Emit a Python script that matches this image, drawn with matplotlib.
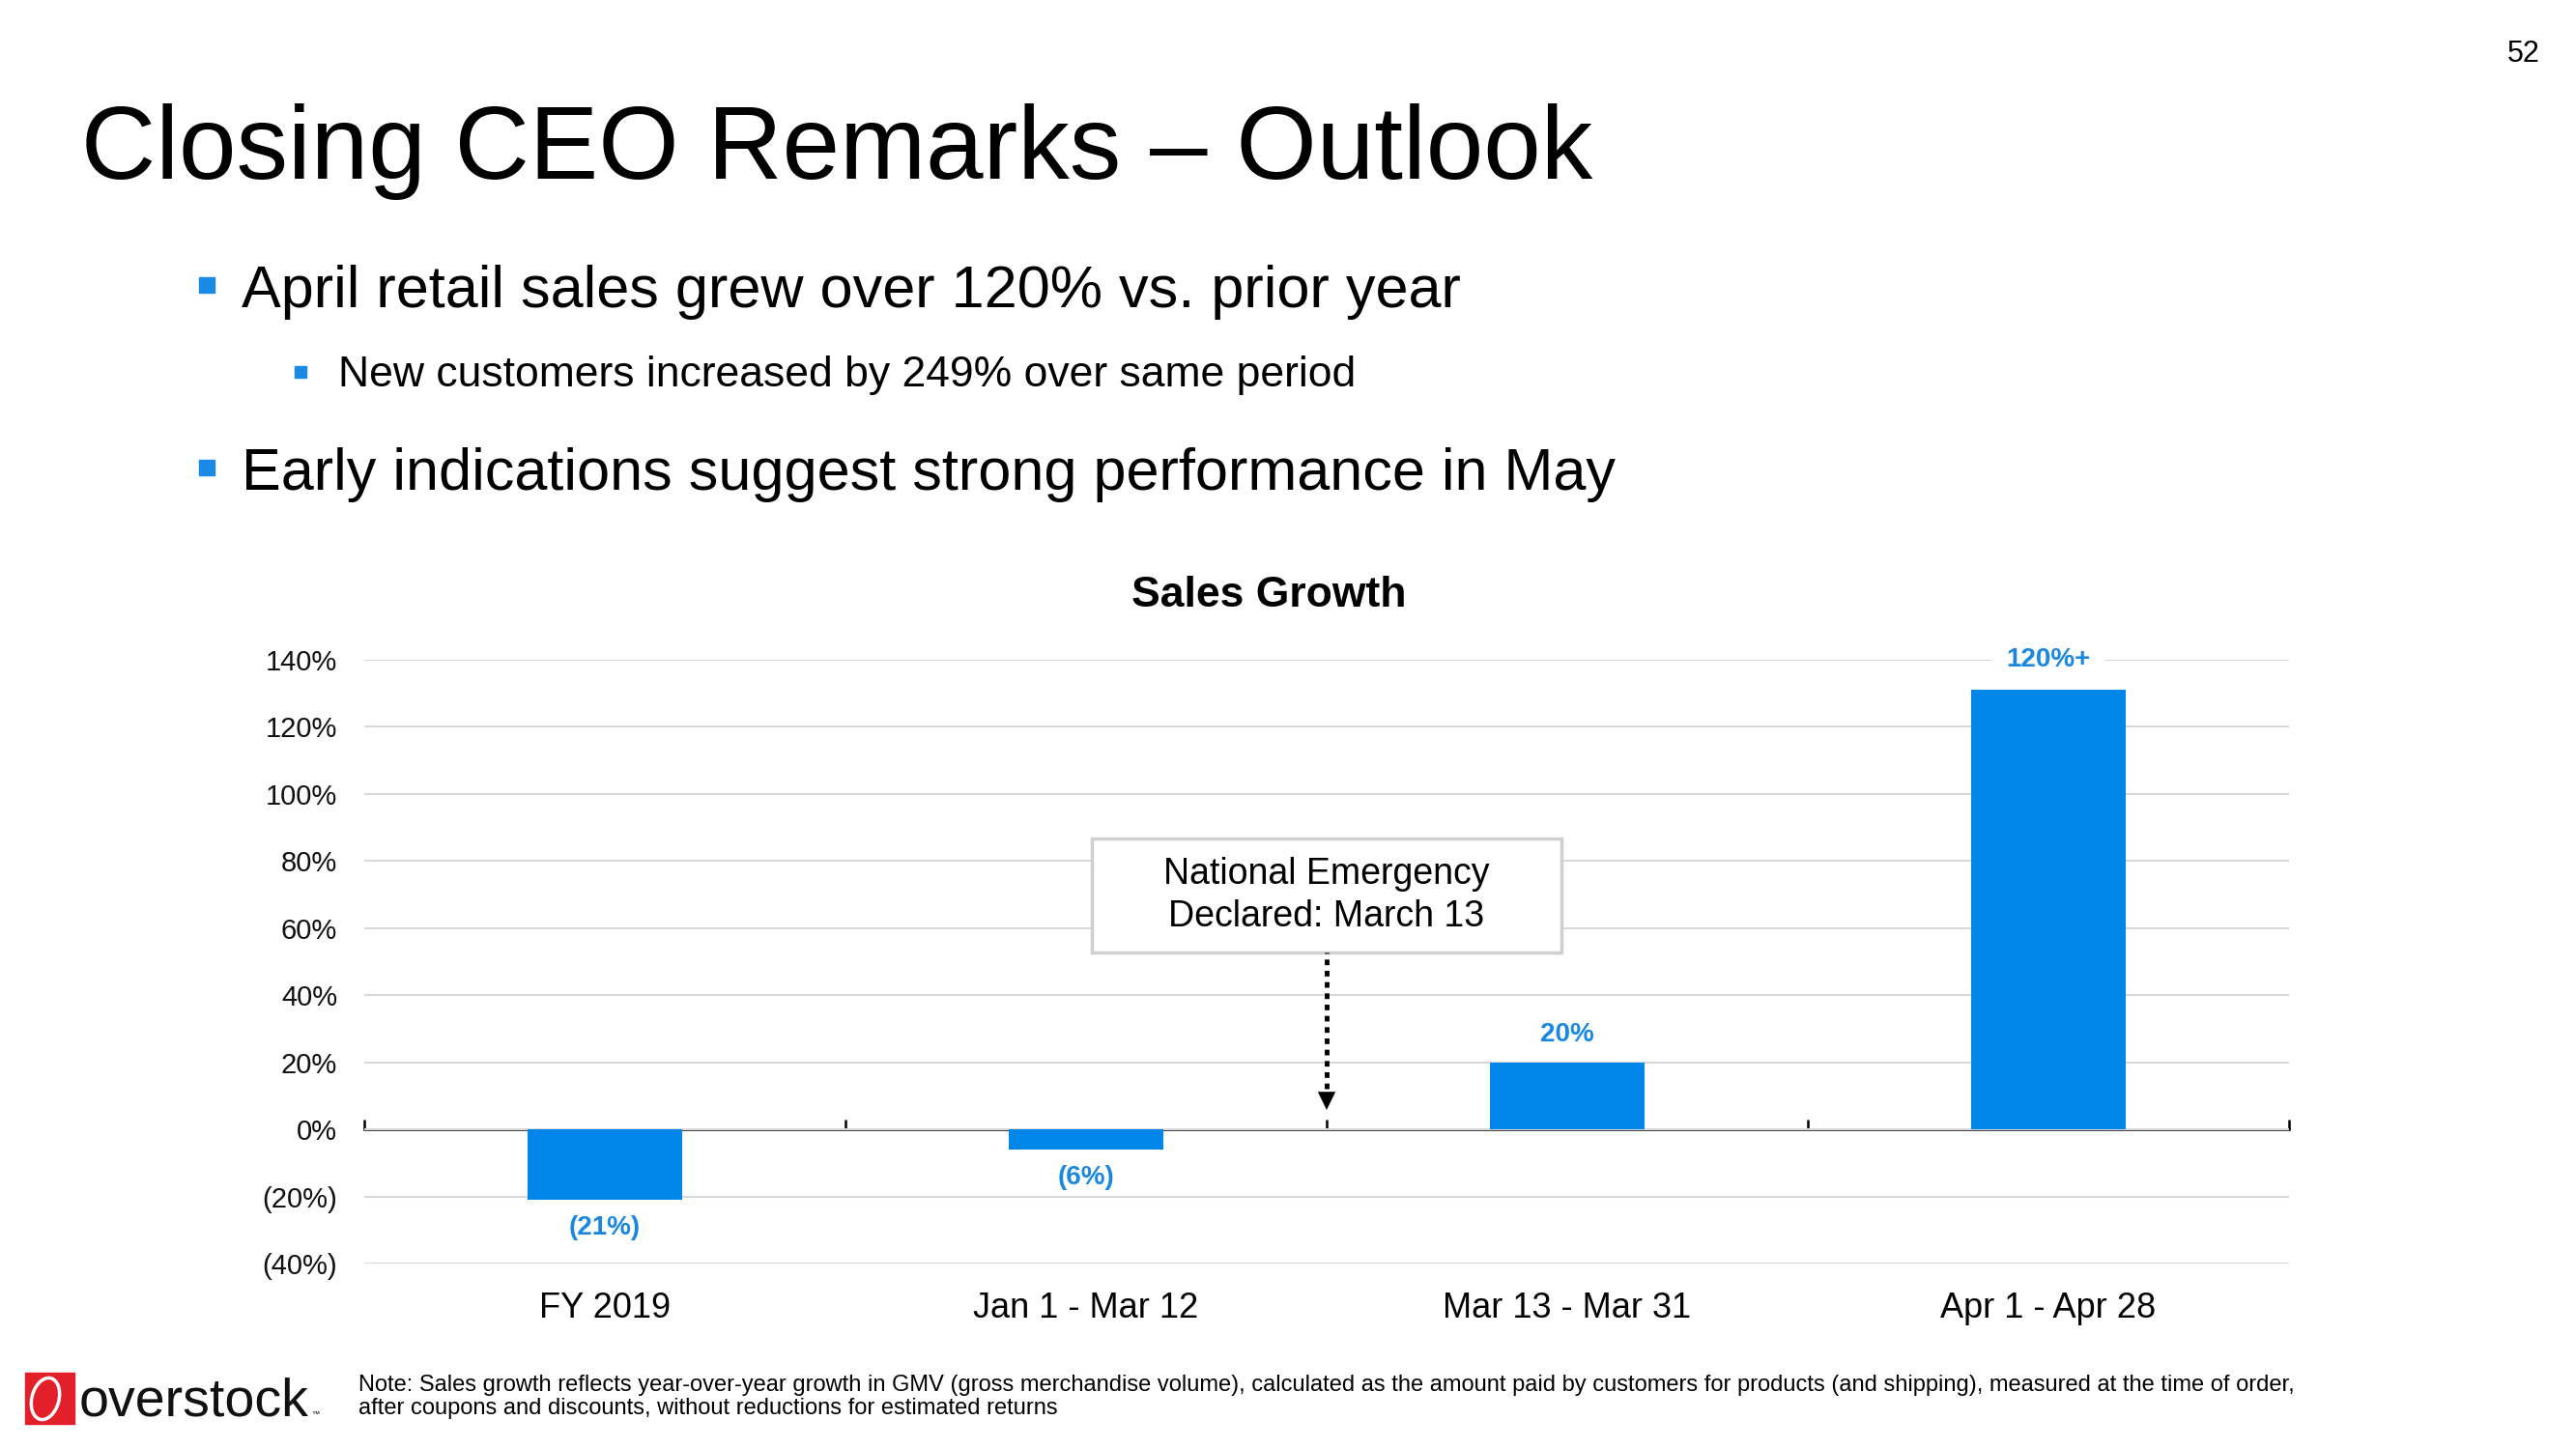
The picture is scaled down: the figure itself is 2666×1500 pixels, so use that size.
import matplotlib

matplotlib.use("Agg")
import matplotlib.pyplot as plt
import numpy as np
from matplotlib.patches import Ellipse, Rectangle

# chart values
categories = ["FY 2019", "Jan 1 - Mar 12", "Mar 13 - Mar 31", "Apr 1 - Apr 28"]
growth = [-21, -6, 20, 131]
value_labels = ["(21%)", "(6%)", "20%", "120%+"]
y_ticks = [-40, -20, 0, 20, 40, 60, 80, 100, 120, 140]
y_tick_labels = ["(40%)", "(20%)", "0%", "20%", "40%", "60%", "80%", "100%", "120%", "140%"]

event_text = "National Emergency\nDeclared: March 13"
event_pos = 1.5  # boundary between Jan 1 - Mar 12 and Mar 13 - Mar 31

title = "Closing CEO Remarks \u2013 Outlook"
bullet_1 = "April retail sales grew over 120% vs. prior year"
sub_bullet = "New customers increased by 249% over same period"
bullet_2 = "Early indications suggest strong performance in May"
chart_title = "Sales Growth"
note_lines = [
    "Note: Sales growth reflects year-over-year growth in GMV (gross merchandise volume), "
    "calculated as the amount paid by customers for products (and shipping), measured at the time of order,",
    "after coupons and discounts, without reductions for estimated returns",
]
page_no = "52"

BAR_BLUE = "#0086E8"
LABEL_BLUE = "#1A88E0"
BULLET_BLUE = "#1A8AE6"
GRID = "#D9D9D9"
W, H = 2666, 1500

plt.rcParams["font.family"] = ["Liberation Sans", "DejaVu Sans"]

fig = plt.figure(figsize=(W / 100, H / 100), dpi=100)


def fx(x):
    return x / W


def fy(y):
    return 1 - y / H


def px_rect(x0, y0, x1, y1, **kw):
    # rectangle given in slide pixels (top-left origin)
    return Rectangle((x0 / 100, (H - y1) / 100), (x1 - x0) / 100, (y1 - y0) / 100,
                     transform=fig.dpi_scale_trans, **kw)


# ---- slide text ----
fig.text(fx(84), fy(185), title, fontsize=77, va="baseline", color="black")
fig.text(fx(250), fy(318), bullet_1, fontsize=44, va="baseline")
fig.text(fx(350), fy(400), sub_bullet, fontsize=32, va="baseline")
fig.text(fx(250), fy(507), bullet_2, fontsize=44, va="baseline")
fig.add_artist(px_rect(206, 287, 222, 303, color=BULLET_BLUE))
fig.add_artist(px_rect(305, 379, 317, 391, color=BULLET_BLUE))
fig.add_artist(px_rect(206, 476, 222, 492, color=BULLET_BLUE))
fig.text(fx(2612), fy(56), page_no, fontsize=22, ha="center", va="center")

fig.text(fx(1313), fy(628), chart_title, fontsize=32, fontweight="bold",
         ha="center", va="baseline")

# ---- chart ----
ax = fig.add_axes([fx(377), fy(1308), fx(2369) - fx(377), (1308 - 683) / H])
x = np.arange(len(categories))
ax.bar(x, growth, width=0.32, color=BAR_BLUE, zorder=3)
ax.set_xlim(-0.5, len(categories) - 0.5)
ax.set_ylim(y_ticks[0], y_ticks[-1])
ax.set_yticks(y_ticks, y_tick_labels)
ax.yaxis.grid(True, color=GRID, lw=1.5)
ax.set_axisbelow(True)
ax.tick_params(axis="y", length=0, pad=20, labelsize=21, labelcolor="#111111")
ax.set_xticks(x, categories)
ax.tick_params(axis="x", length=0, pad=21, labelsize=26)
for s in ax.spines.values():
    s.set_visible(False)

# zero line with upward ticks on category boundaries
zero_frac = (0 - y_ticks[0]) / (y_ticks[-1] - y_ticks[0])
zax = ax.secondary_xaxis(zero_frac)
zax.set_xticks(np.arange(len(categories) + 1) - 0.5)
zax.tick_params(direction="in", length=7, width=1.8, labelbottom=False, color="black")
zax.spines["bottom"].set_linewidth(1.8)
zax.spines["bottom"].set_color("black")

for xi, v, lbl in zip(x, growth, value_labels):
    if lbl.endswith("+"):
        # capped bar: label sits on the top gridline
        ax.annotate(lbl, (xi, y_ticks[-1]), ha="center", va="center", fontsize=20,
                    fontweight="bold", color=LABEL_BLUE, annotation_clip=False,
                    bbox=dict(fc="white", ec="none", pad=10), zorder=2)
    else:
        ax.annotate(lbl, (xi, v), xytext=(0, 21 if v > 0 else -21),
                    textcoords="offset points", ha="center", va="center",
                    fontsize=20, fontweight="bold", color=LABEL_BLUE)

# event call-out: box, dotted shaft, solid head
box_bottom, box_top = 52.7, 86.6
ax.add_patch(Rectangle((event_pos - 0.487, box_bottom), 0.974, box_top - box_bottom,
                       fc="white", ec="#CFCFCF", lw=2.5, zorder=4))
ax.text(event_pos, (box_bottom + box_top) / 2, event_text, ha="center", va="center",
        fontsize=27, linespacing=1.3, zorder=5)
ax.vlines(event_pos, 12, box_bottom, colors="black", lw=3.5,
          linestyles=(0, (1.2, 1.2)), zorder=5)
ax.annotate("", xy=(event_pos, 5.8), xytext=(event_pos, 13),
            arrowprops=dict(arrowstyle="-|>,head_length=0.45,head_width=0.22",
                            lw=0, color="black", mutation_scale=30,
                            shrinkA=0, shrinkB=0),
            zorder=5)

# ---- footer ----
fig.add_artist(px_rect(26, 1421, 77, 1474, color="#E3202A"))
fig.add_artist(Ellipse((47 / 100, (H - 1448) / 100), 0.28, 0.44, angle=-15,
                       transform=fig.dpi_scale_trans, fill=False, ec="white", lw=2.5))
fig.text(fx(82), fy(1466), "overstock", fontsize=40, va="baseline", color="#111111")
fig.text(fx(322), fy(1466), "\u2122", fontsize=6, va="baseline")
fig.text(fx(371), fy(1440), note_lines[0], fontsize=17, va="baseline")
fig.text(fx(371), fy(1464), note_lines[1], fontsize=17, va="baseline")

fig.savefig("out.png", dpi=100)
